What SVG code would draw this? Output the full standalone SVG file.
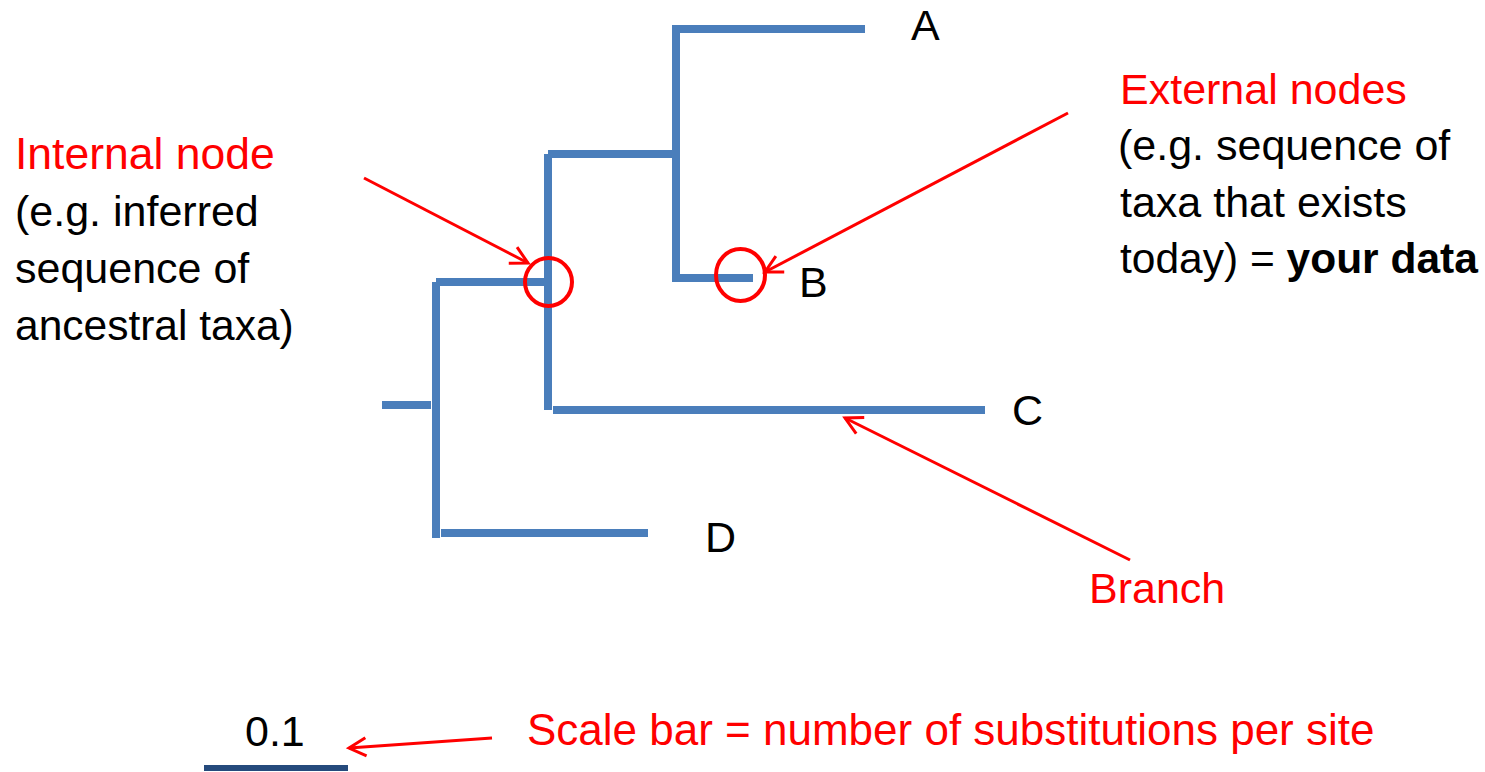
<svg xmlns="http://www.w3.org/2000/svg" width="1485" height="772" viewBox="0 0 1485 772">
<style>
.br{fill:#4a7ebb}
.t{font-family:"Liberation Sans",Arial,sans-serif;font-size:43px;fill:#000}
.r{fill:#ff0000}
.ar{stroke:#ff0000;stroke-width:3;fill:none}
.ring{stroke:#ff0000;stroke-width:4;fill:none}
</style>
<defs>
<marker id="open" markerUnits="userSpaceOnUse" viewBox="-20 -12 24 24" markerWidth="24" markerHeight="24" refX="0" refY="0" orient="auto">
<path d="M-17,-9 L0,0 L-17,9" fill="none" stroke="#ff0000" stroke-width="3"/>
</marker>
</defs>
<g id="tree">
<rect class="br" x="382" y="401" width="49" height="8"/>
<rect class="br" x="432" y="282" width="8" height="256"/>
<rect class="br" x="436" y="278" width="109" height="8"/>
<rect class="br" x="441" y="529" width="207" height="8"/>
<rect class="br" x="544" y="154" width="8" height="256"/>
<rect class="br" x="553" y="406" width="432" height="8"/>
<rect class="br" x="548" y="150" width="126" height="8"/>
<rect class="br" x="672" y="25" width="8" height="257"/>
<rect class="br" x="676" y="25" width="189" height="8"/>
<rect class="br" x="673" y="274" width="80" height="8"/>
</g>
<g id="node-A"><text class="t" x="911" y="40">A</text></g>
<g id="node-B"><text class="t" x="799" y="297">B</text></g>
<g id="node-C"><text class="t" x="1012" y="425">C</text></g>
<g id="node-D"><text class="t" x="705" y="552">D</text></g>
<g id="internal-node-marker"><ellipse class="ring" cx="548.5" cy="282" rx="23.5" ry="24"/></g>
<g id="external-node-marker"><ellipse class="ring" cx="740.5" cy="275" rx="24.5" ry="26"/></g>
<g id="internal-label">
<text class="t r" x="15" y="169" style="font-size:44.5px">Internal node</text>
<text class="t" x="15" y="226">(e.g. inferred</text>
<text class="t" x="15" y="283">sequence of</text>
<text class="t" x="15" y="340" style="font-size:42.5px">ancestral taxa)</text>
</g>
<g id="external-label">
<text class="t r" x="1120" y="104">External nodes</text>
<text class="t" x="1118" y="160">(e.g. sequence of</text>
<text class="t" x="1120" y="217">taxa that exists</text>
<text class="t" x="1120" y="273" style="font-size:42.5px">today) = <tspan font-weight="bold">your data</tspan></text>
</g>
<g id="branch-label"><text class="t r" x="1089" y="603">Branch</text></g>
<g id="scale-bar">
<rect x="204" y="765" width="144" height="6" fill="#254a7c"/>
<text class="t" x="245" y="746">0.1</text>
</g>
<g id="scale-label"><text class="t r" x="527" y="745" style="font-size:44px">Scale bar = number of substitutions per site</text></g>
<g id="connectors">
<line class="ar" x1="364" y1="178" x2="528" y2="263" marker-end="url(#open)"/>
<line class="ar" x1="1068" y1="113" x2="765" y2="272" marker-end="url(#open)"/>
<line class="ar" x1="1130" y1="560" x2="845" y2="418" marker-end="url(#open)"/>
<line class="ar" x1="492" y1="738" x2="349" y2="748" marker-end="url(#open)"/>
</g>
</svg>
